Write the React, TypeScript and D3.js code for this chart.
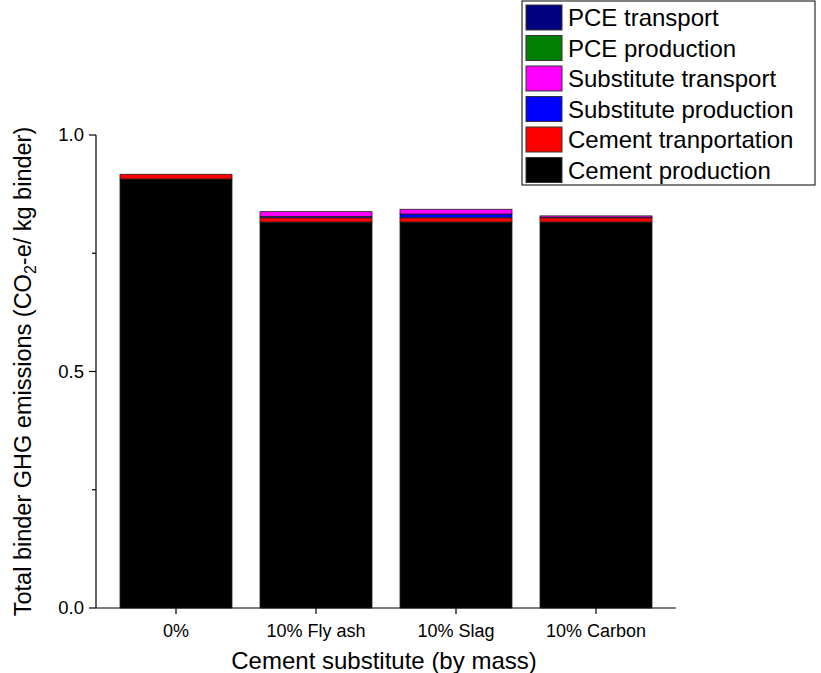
import React, { useEffect, useRef } from "react";
import * as d3 from "d3";

const categories = ["0%", "10% Fly ash", "10% Slag", "10% Carbon"];

// stacked from bottom to top
const seriesNames = [
  "Cement production",
  "Cement tranportation",
  "Substitute production",
  "Substitute transport",
  "PCE production",
  "PCE transport",
];
const seriesColors = ["#000000", "#ff0000", "#0000ff", "#ff00ff", "#008000", "#000080"];

const cementProduction = [0.907, 0.816, 0.816, 0.816];
const cementTransport = [0.01, 0.009, 0.009, 0.009];
const substituteProduction = [0, 0.003, 0.008, 0.001];
const substituteTransport = [0, 0.01, 0.01, 0.003];
const pceProduction = [0, 0, 0, 0];
const pceTransport = [0, 0, 0, 0];

const yTicks = [0, 0.5, 1.0];
const yMinorTicks = [0.25, 0.75];

const App = () => {
  const svgRef = useRef<SVGSVGElement>(null);

  useEffect(() => {
    const svg = d3.select(svgRef.current);
    svg.selectAll("*").remove();
    const font = "Liberation Sans, Arial, sans-serif";

    const left = 96;
    const right = 676;
    const bottom = 608;
    const top = 135;

    const values = [
      cementProduction,
      cementTransport,
      substituteProduction,
      substituteTransport,
      pceProduction,
      pceTransport,
    ];
    const rows = categories.map((c, i) => {
      const r: any = { cat: c };
      seriesNames.forEach((s, j) => (r[s] = values[j][i]));
      return r;
    });
    const stacked = d3.stack().keys(seriesNames)(rows);

    const x = d3.scaleBand().domain(categories).range([left + 10, right - 10]).paddingInner(0.2).paddingOuter(0.1);
    const y = d3.scaleLinear().domain([0, 1.0]).range([bottom, top]);

    // bars
    stacked.forEach((layer, j) => {
      svg
        .append("g")
        .selectAll("rect")
        .data(layer.filter((d) => d[1] - d[0] > 0))
        .enter()
        .append("rect")
        .attr("x", (d: any) => x(d.data.cat)!)
        .attr("width", x.bandwidth())
        .attr("y", (d) => y(d[1]))
        .attr("height", (d) => y(d[0]) - y(d[1]))
        .attr("fill", seriesColors[j])
        .attr("stroke", "#222")
        .attr("stroke-width", 0.8);
    });

    // y axis
    const yAxis = svg.append("g").attr("transform", `translate(${left},0)`);
    yAxis.append("line").attr("x1", 0).attr("x2", 0).attr("y1", bottom).attr("y2", top).attr("stroke", "#000").attr("stroke-width", 1.2);
    yTicks.forEach((t) => {
      yAxis.append("line").attr("x1", -7).attr("x2", 0).attr("y1", y(t)).attr("y2", y(t)).attr("stroke", "#000").attr("stroke-width", 1.2);
      yAxis
        .append("text")
        .attr("x", -12)
        .attr("y", y(t))
        .attr("dy", "0.35em")
        .attr("text-anchor", "end")
        .attr("font-family", font)
        .attr("font-size", 18.5)
        .text(d3.format(".1f")(t));
    });
    yMinorTicks.forEach((t) => {
      yAxis.append("line").attr("x1", -4).attr("x2", 0).attr("y1", y(t)).attr("y2", y(t)).attr("stroke", "#000").attr("stroke-width", 1.2);
    });

    // x axis
    const xAxis = svg.append("g").attr("transform", `translate(0,${bottom})`);
    xAxis.append("line").attr("x1", left).attr("x2", right).attr("y1", 0).attr("y2", 0).attr("stroke", "#000").attr("stroke-width", 1.2);
    categories.forEach((c) => {
      const cx = x(c)! + x.bandwidth() / 2;
      xAxis.append("line").attr("x1", cx).attr("x2", cx).attr("y1", 0).attr("y2", 6).attr("stroke", "#000").attr("stroke-width", 1.2);
      xAxis
        .append("text")
        .attr("x", cx)
        .attr("y", 29)
        .attr("text-anchor", "middle")
        .attr("font-family", font)
        .attr("font-size", 18)
        .text(c);
    });

    // axis titles
    svg
      .append("text")
      .attr("x", (left + right) / 2 - 2)
      .attr("y", 669)
      .attr("text-anchor", "middle")
      .attr("font-family", font)
      .attr("font-size", 24)
      .text("Cement substitute (by mass)");

    const yl = svg
      .append("text")
      .attr("transform", `translate(31,${(top + bottom) / 2}) rotate(-90)`)
      .attr("text-anchor", "middle")
      .attr("font-family", font)
      .attr("font-size", 23.5);
    yl.append("tspan").text("Total binder GHG emissions (CO");
    yl.append("tspan").attr("font-size", 16).attr("dy", 5).text("2");
    yl.append("tspan").attr("dy", -5).text("-e/ kg binder)");

    // legend
    const legend = svg.append("g").attr("transform", "translate(522,1)");
    legend.append("rect").attr("width", 293).attr("height", 184).attr("fill", "#fff").attr("stroke", "#000").attr("stroke-width", 1);
    const order = [...seriesNames].reverse();
    const orderColors = [...seriesColors].reverse();
    order.forEach((s, i) => {
      const g = legend.append("g").attr("transform", `translate(4,${4 + i * 30.5})`);
      g.append("rect").attr("width", 36).attr("height", 25).attr("fill", orderColors[i]).attr("stroke", "#333").attr("stroke-width", 1);
      g.append("text")
        .attr("x", 42)
        .attr("y", 13)
        .attr("dy", "0.35em")
        .attr("font-family", font)
        .attr("font-size", 24)
        .text(s);
    });
  }, []);

  return (
    <svg
      ref={svgRef}
      width={821}
      height={673}
      style={{ position: "absolute", left: 0, top: 0, background: "#fff" }}
    />
  );
};

export default App;
